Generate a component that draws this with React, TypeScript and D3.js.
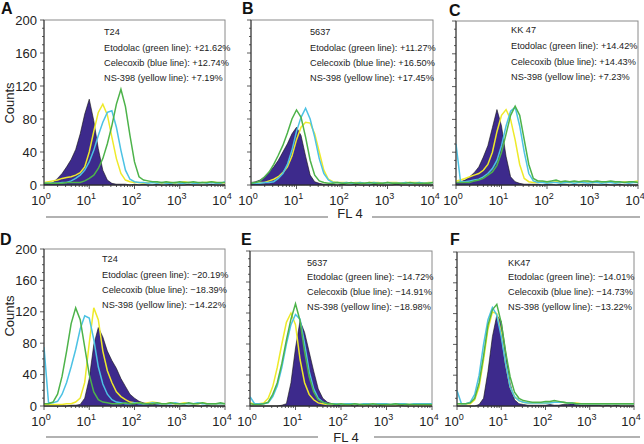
import React from "react";
import * as d3 from "d3";

const width = 644;
const height = 444;
const font = "'Liberation Sans', Arial, Helvetica, sans-serif";

// FL 4 channel, log10 of the bin position (one bin per 0.1 decade)
const binLog = [
  0, 0.1, 0.2, 0.3, 0.4, 0.5, 0.6, 0.7, 0.8, 0.9, 1, 1.1, 1.2, 1.3, 1.4, 1.5, 1.6, 1.7, 1.8, 1.9, 2,
  2.1, 2.2, 2.3, 2.4, 2.5, 2.6, 2.7, 2.8, 2.9, 3, 3.1, 3.2, 3.3, 3.4, 3.5, 3.6, 3.7, 3.8, 3.9, 4,
];

// counts per bin
const aControl = [2, 1, 3, 8, 14, 22, 31, 43, 62, 86, 104, 78, 44, 18, 6, 2, 1, 1, 1, 0, 1, 0, 1, 0, 0, 1, 0, 0, 1, 0, 0, 0, 1, 0, 0, 0, 0, 1, 0, 0, 0];
const aGreen = [2, 2, 2, 2, 2, 3, 3, 3, 3, 5, 8, 12, 20, 32, 50, 72, 98, 116, 95, 60, 28, 10, 6, 5, 4, 4, 3, 4, 3, 3, 4, 3, 3, 4, 3, 3, 3, 4, 3, 3, 3];
const aBlue = [2, 2, 2, 2, 3, 3, 5, 8, 12, 18, 28, 42, 60, 76, 88, 90, 70, 42, 18, 7, 4, 3, 3, 2, 3, 2, 3, 2, 2, 3, 2, 2, 3, 2, 2, 3, 2, 3, 2, 2, 4];
const aYellow = [3, 4, 5, 6, 8, 9, 10, 12, 15, 22, 40, 65, 88, 98, 85, 58, 32, 14, 6, 4, 3, 3, 2, 3, 4, 3, 2, 3, 3, 2, 3, 4, 3, 3, 2, 3, 3, 4, 3, 2, 3];

const bControl = [3, 4, 6, 10, 16, 22, 30, 40, 50, 62, 70, 60, 35, 12, 4, 2, 1, 1, 1, 0, 1, 0, 0, 1, 0, 0, 0, 1, 0, 0, 0, 0, 1, 0, 0, 0, 0, 0, 0, 0, 0];
const bGreen = [2, 3, 5, 10, 16, 25, 36, 48, 63, 80, 91, 82, 58, 30, 12, 5, 3, 2, 2, 3, 2, 2, 3, 2, 2, 2, 3, 2, 2, 2, 3, 2, 2, 2, 2, 3, 2, 2, 2, 2, 3];
const bBlue = [2, 2, 2, 3, 3, 4, 8, 14, 25, 42, 65, 82, 93, 80, 58, 32, 14, 6, 3, 3, 2, 3, 2, 2, 3, 2, 2, 3, 2, 2, 3, 2, 2, 2, 3, 2, 2, 3, 2, 2, 3];
const bYellow = [2, 2, 3, 3, 5, 7, 10, 15, 22, 35, 55, 70, 76, 75, 62, 40, 18, 7, 4, 3, 3, 3, 2, 3, 3, 2, 3, 3, 3, 2, 3, 3, 3, 2, 3, 3, 3, 3, 2, 3, 3];

const cControl = [3, 4, 6, 10, 15, 22, 34, 48, 70, 92, 72, 35, 10, 4, 2, 1, 1, 1, 1, 0, 1, 1, 0, 1, 1, 0, 1, 0, 1, 0, 1, 0, 0, 1, 0, 0, 1, 0, 0, 0, 0];
const cGreen = [3, 3, 3, 3, 5, 6, 8, 12, 16, 24, 40, 62, 85, 96, 85, 55, 25, 8, 5, 5, 4, 5, 6, 4, 5, 4, 5, 4, 5, 5, 4, 5, 4, 4, 5, 4, 4, 3, 4, 4, 3];
const cBlue = [50, 4, 4, 5, 6, 7, 10, 14, 20, 30, 48, 72, 90, 95, 72, 40, 14, 5, 3, 3, 2, 3, 3, 2, 3, 3, 2, 3, 3, 2, 3, 3, 2, 3, 3, 2, 3, 3, 2, 3, 3];
const cYellow = [5, 6, 8, 10, 12, 14, 18, 25, 40, 65, 85, 92, 80, 55, 25, 8, 4, 3, 3, 4, 3, 3, 4, 3, 3, 3, 4, 3, 3, 4, 3, 3, 4, 3, 4, 3, 3, 4, 3, 4, 5];

const dControl = [0, 0, 0, 0, 0, 0, 1, 1, 2, 10, 35, 78, 100, 88, 70, 58, 48, 35, 25, 15, 10, 6, 4, 3, 2, 2, 1, 1, 1, 1, 0, 1, 0, 1, 0, 0, 1, 0, 0, 0, 0];
const dGreen = [3, 3, 5, 15, 38, 70, 105, 125, 110, 75, 40, 18, 8, 5, 4, 3, 3, 3, 4, 3, 3, 4, 3, 3, 3, 4, 3, 3, 4, 3, 3, 3, 4, 3, 3, 4, 3, 3, 3, 4, 3];
const dBlue = [75, 4, 4, 6, 15, 30, 50, 72, 98, 115, 112, 85, 50, 28, 15, 8, 5, 4, 3, 3, 4, 3, 3, 3, 4, 3, 3, 3, 3, 4, 3, 3, 3, 3, 4, 3, 3, 3, 3, 3, 3];
const dYellow = [2, 2, 2, 2, 2, 3, 3, 5, 10, 30, 80, 125, 110, 70, 45, 30, 18, 12, 8, 5, 4, 4, 3, 4, 5, 4, 3, 3, 4, 3, 3, 4, 3, 3, 3, 4, 3, 3, 3, 3, 3];

const eControl = [0, 0, 0, 0, 0, 0, 0, 1, 3, 30, 75, 110, 95, 70, 45, 22, 10, 5, 3, 2, 1, 1, 1, 0, 1, 0, 1, 0, 0, 1, 0, 0, 0, 1, 0, 0, 0, 0, 0, 0, 0];
const eGreen = [3, 2, 2, 3, 5, 15, 30, 55, 85, 112, 132, 110, 70, 38, 18, 8, 5, 3, 3, 2, 3, 2, 2, 3, 2, 2, 2, 3, 2, 2, 2, 2, 3, 2, 2, 2, 2, 2, 2, 2, 2];
const eBlue = [12, 3, 3, 3, 4, 12, 26, 50, 80, 105, 118, 112, 80, 45, 22, 10, 5, 3, 3, 3, 2, 3, 3, 3, 2, 3, 3, 2, 3, 3, 3, 2, 3, 3, 3, 2, 3, 3, 3, 3, 3];
const eYellow = [4, 3, 3, 4, 10, 25, 50, 80, 108, 120, 105, 60, 30, 15, 8, 4, 3, 2, 2, 3, 2, 2, 2, 3, 2, 2, 2, 2, 3, 2, 2, 2, 2, 2, 3, 2, 2, 2, 2, 2, 2];

const fControl = [0, 0, 0, 0, 0, 2, 10, 45, 90, 118, 110, 70, 30, 8, 3, 2, 1, 1, 1, 1, 1, 2, 1, 1, 2, 2, 3, 2, 1, 1, 1, 1, 1, 0, 1, 0, 1, 0, 0, 0, 0];
const fGreen = [3, 3, 3, 4, 10, 30, 65, 105, 125, 132, 108, 70, 38, 18, 10, 7, 6, 5, 5, 5, 6, 6, 7, 6, 5, 4, 4, 3, 3, 3, 3, 3, 3, 3, 3, 3, 3, 3, 3, 3, 3];
const fBlue = [20, 3, 3, 5, 15, 40, 80, 112, 128, 118, 90, 55, 25, 12, 7, 5, 4, 4, 4, 4, 4, 4, 5, 5, 5, 4, 4, 3, 3, 3, 3, 3, 3, 3, 3, 3, 3, 3, 3, 3, 3];
const fYellow = [3, 3, 3, 3, 8, 25, 60, 100, 122, 120, 95, 55, 25, 12, 7, 5, 4, 4, 4, 4, 4, 5, 5, 5, 5, 4, 4, 4, 3, 3, 3, 3, 3, 3, 3, 3, 3, 3, 3, 3, 3];

const panelLetters = ["A", "B", "C", "D", "E", "F"];
const cellLines = ["T24", "5637", "KK 47", "T24", "5637", "KK47"];
const drugNames = ["Etodolac (green line): ", "Celecoxib (blue line): ", "NS-398 (yellow line): "];
const changesA = ["+21.62%", "+12.74%", "+7.19%"];
const changesB = ["+11.27%", "+16.50%", "+17.45%"];
const changesC = ["+14.42%", "+14.43%", "+7.23%"];
const changesD = ["\u221220.19%", "\u221218.39%", "\u221214.22%"];
const changesE = ["\u221214.72%", "\u221214.91%", "\u221218.98%"];
const changesF = ["\u221214.01%", "\u221214.73%", "\u221213.22%"];
const yTicks = [0, 40, 80, 120, 160, 200];
const xDecades = [0, 1, 2, 3, 4];

const panels = [
  { control: aControl, green: aGreen, blue: aBlue, yellow: aYellow, changes: changesA },
  { control: bControl, green: bGreen, blue: bBlue, yellow: bYellow, changes: changesB },
  { control: cControl, green: cGreen, blue: cBlue, yellow: cYellow, changes: changesC },
  { control: dControl, green: dGreen, blue: dBlue, yellow: dYellow, changes: changesD },
  { control: eControl, green: eGreen, blue: eBlue, yellow: eYellow, changes: changesE },
  { control: fControl, green: fGreen, blue: fBlue, yellow: fYellow, changes: changesF },
];

// pixel boxes of each panel
const boxes = [
  { x0: 44, x1: 225, y0: 20, y1: 185, tx: 104, ty: [35, 51, 66, 81], lx: 1, ly: 14, yLabels: true },
  { x0: 251, x1: 433, y0: 20, y1: 185, tx: 310, ty: [35, 51, 66, 81], lx: 242, ly: 14 },
  { x0: 456, x1: 638, y0: 21, y1: 185, tx: 511, ty: [33, 49, 65, 80], lx: 449, ly: 16 },
  { x0: 44, x1: 225, y0: 249, y1: 406, tx: 102, ty: [262, 278, 293, 308], lx: 0, ly: 245, yLabels: true },
  { x0: 250, x1: 432, y0: 251, y1: 406, tx: 307, ty: [266, 280, 295, 310], lx: 241, ly: 245 },
  { x0: 457, x1: 634, y0: 252, y1: 406, tx: 508, ty: [266, 280, 295, 310], lx: 450, ly: 245 },
];

const colors = {
  control: "#3d2a8c",
  green: "#4db34a",
  blue: "#4cc2e4",
  yellow: "#eeea2a",
};

function Panel({ p, b, idx }) {
  const x = d3.scaleLog().domain([1, 10000]).range([b.x0, b.x1]);
  const y = d3.scaleLinear().domain([0, 200]).range([b.y1, b.y0]);
  const bx = (i) => x(Math.pow(10, binLog[i]));

  const area = d3.area<number>()
    .x((d, i) => bx(i))
    .y0(y(0))
    .y1((d) => y(d));
  const line = d3.line<number>()
    .x((d, i) => bx(i))
    .y((d) => y(d));

  const clipId = "clip" + idx;
  const minorX = x.ticks();
  const minorY = d3.range(0, 201, 10);

  return (
    <g>
      <defs>
        <clipPath id={clipId}>
          <rect x={b.x0} y={b.y0} width={b.x1 - b.x0} height={b.y1 - b.y0 + 1} />
        </clipPath>
      </defs>
      {/* frame */}
      <rect x={b.x0} y={b.y0} width={b.x1 - b.x0} height={b.y1 - b.y0} fill="none" stroke="#8a8a8a" strokeWidth={1} />

      <g clipPath={`url(#${clipId})`}>
        <path d={area(p.control)} fill={colors.control} stroke="#111" strokeWidth={0.6} />
        <path d={line(p.yellow)} fill="none" stroke={colors.yellow} strokeWidth={1.5} />
        <path d={line(p.blue)} fill="none" stroke={colors.blue} strokeWidth={1.5} />
        <path d={line(p.green)} fill="none" stroke={colors.green} strokeWidth={1.5} />
      </g>

      {/* y axis */}
      <line x1={b.x0} x2={b.x0} y1={b.y0} y2={b.y1} stroke="#333" strokeWidth={1} />
      {minorY.map((t) => (
        <line key={"my" + t} x1={b.x0 - (t % 40 === 0 ? 4 : 2)} x2={b.x0} y1={y(t)} y2={y(t)} stroke="#333" strokeWidth={0.8} />
      ))}
      {b.yLabels &&
        yTicks.map((t) => (
          <text key={"yl" + t} x={b.x0 - 7} y={y(t) + 4.5} textAnchor="end" fontSize={13} fontFamily={font} fill="#222">
            {t}
          </text>
        ))}

      {/* x axis */}
      <line x1={b.x0} x2={b.x1} y1={b.y1} y2={b.y1} stroke="#333" strokeWidth={1} />
      {minorX.map((t, i) => {
        const major = Math.abs(Math.log10(t) - Math.round(Math.log10(t))) < 1e-6;
        return (
          <line key={"mx" + i} x1={x(t)} x2={x(t)} y1={b.y1} y2={b.y1 + (major ? 4 : 2)} stroke="#333" strokeWidth={0.8} />
        );
      })}
      {xDecades.map((k) => (
        <text key={"xl" + k} x={x(Math.pow(10, k)) - 3} y={b.y1 + 20} textAnchor="middle" fontSize={13} fontFamily={font} fill="#222">
          10
          <tspan dy={-6} fontSize={9}>
            {k}
          </tspan>
        </text>
      ))}

      {/* annotation */}
      <g fontFamily={font} fontSize={9.2} fill="#222">
        <text x={b.tx} y={b.ty[0]}>{cellLines[idx]}</text>
        {drugNames.map((d, j) => (
          <text key={d} x={b.tx} y={b.ty[j + 1]}>
            {d + p.changes[j]}
          </text>
        ))}
      </g>

      <text x={b.lx} y={b.ly} fontSize={16} fontWeight="bold" fontFamily={font} fill="#111">
        {panelLetters[idx]}
      </text>
    </g>
  );
}

export default function App() {
  return (
    <svg width={width} height={height} style={{ position: "absolute", left: 0, top: 0, background: "#fff" }}>
      <rect width={width} height={height} fill="#fff" />
      {panels.map((p, i) => (
        <Panel key={i} p={p} b={boxes[i]} idx={i} />
      ))}

      {/* y titles */}
      <text transform="translate(14,103) rotate(-90)" textAnchor="middle" fontSize={13} fontFamily={font} fill="#222">
        Counts
      </text>
      <text transform="translate(14,316) rotate(-90)" textAnchor="middle" fontSize={13} fontFamily={font} fill="#222">
        Counts
      </text>

      {/* FL 4 titles with rules */}
      <line x1={46} x2={328} y1={217} y2={217} stroke="#666" strokeWidth={1.2} />
      <line x1={372} x2={640} y1={217} y2={217} stroke="#666" strokeWidth={1.2} />
      <text x={350} y={218} textAnchor="middle" fontSize={13} fontFamily={font} fill="#222">FL 4</text>
      <line x1={46} x2={318} y1={437} y2={437} stroke="#666" strokeWidth={1.2} />
      <line x1={374} x2={640} y1={437} y2={437} stroke="#666" strokeWidth={1.2} />
      <text x={346} y={442} textAnchor="middle" fontSize={13} fontFamily={font} fill="#222">FL 4</text>
    </svg>
  );
}
